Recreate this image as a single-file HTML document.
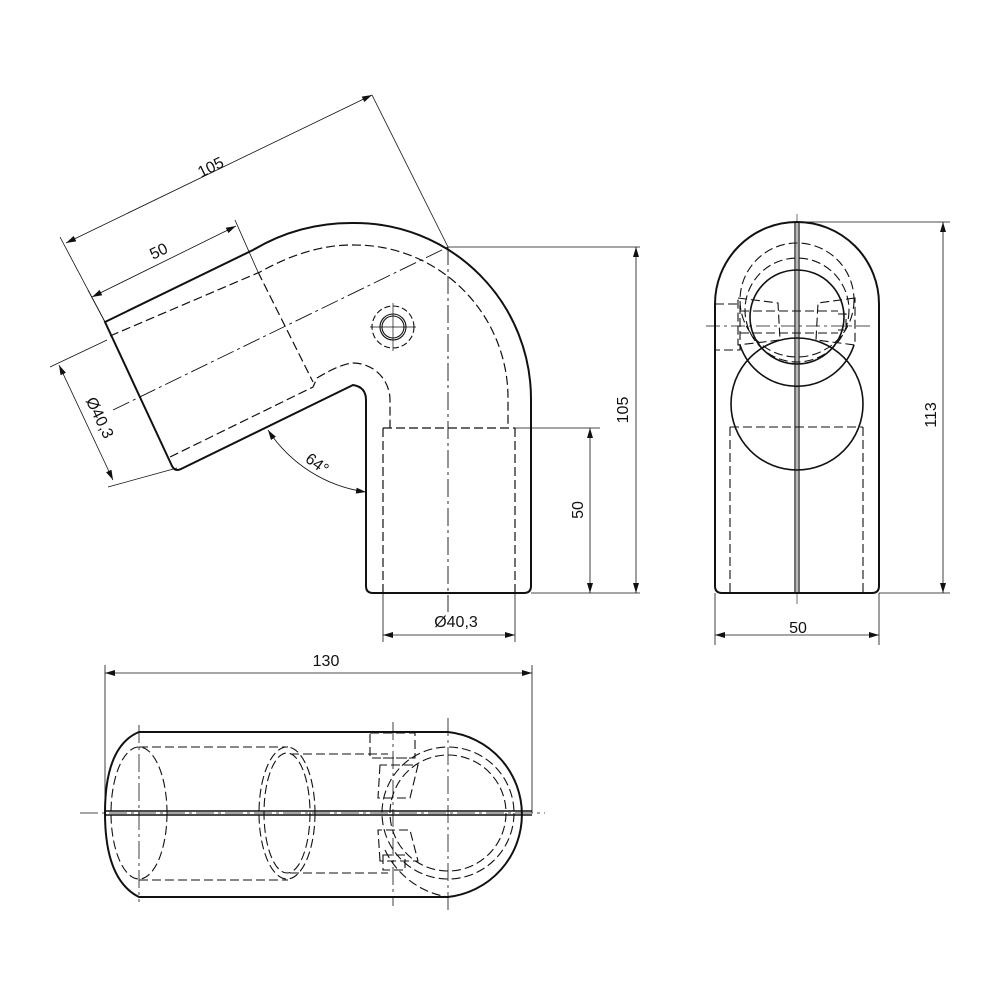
<!DOCTYPE html>
<html><head><meta charset="utf-8"><style>
html,body{margin:0;padding:0;background:#fff}
svg{display:block}
text{font-family:"Liberation Sans",sans-serif;font-size:16px;fill:#111}
</style></head><body>
<svg width="1000" height="1000" viewBox="0 0 1000 1000" xmlns="http://www.w3.org/2000/svg">
<defs>
<marker id="a" viewBox="0 0 10 6" refX="10" refY="3" markerWidth="10" markerHeight="6" orient="auto-start-reverse" markerUnits="userSpaceOnUse"><path d="M0,0L10,3L0,6z" fill="#111"/></marker>
</defs>
<g fill="none" stroke="#111">
<!-- FRONT VIEW -->
<g stroke-width="2">
<path d="M105,322 L253,250 Q300,222 355,223 A176,176 0 0 1 531,399 L531,586 Q531,593 524,593 L373,593 Q366,593 366,586 L366,400 Q366,387 353,385 L181,469 Q175,472 172,466 Z"/>
</g>
<g stroke-width="1.2" stroke-dasharray="9,4">
<path d="M110,336 L260,272 Q310,244 355,245 A153,153 0 0 1 508,398 L508,428"/>
<path d="M170,457 L313,387 L317,378 Q340,364 353,363 A37,37 0 0 1 390,400 L390,428"/>
<path d="M258,272 L313,382"/>
<path d="M383,428 L515,428"/>
<path d="M383,428 L383,593 M515,428 L515,593"/>
</g>
<g stroke-width="0.9" stroke-dasharray="18,4,3,4">
<path d="M113,410 L448,247"/>
<path d="M448,247 L448,612"/>
</g>
<g stroke-width="1.1">
<circle cx="393" cy="327" r="11"/>
<circle cx="393" cy="327" r="13"/>
<circle cx="393" cy="327" r="21" stroke-dasharray="6,3"/>
<path d="M370,327 H416 M393,303 V351" stroke-width="0.7"/>
</g>
<!-- front dims -->
<g stroke-width="0.8">
<path d="M448,247 L372,95 M105,322 L60,237"/>
<path d="M66,243 L372,95" marker-start="url(#a)" marker-end="url(#a)"/>
<path d="M258,272 L235,220 M105,322 L88,290"/>
<path d="M92,297 L236,226" marker-start="url(#a)" marker-end="url(#a)"/>
<path d="M107,340 L50,367 M177,468 L108,487"/>
<path d="M59,365 L113,480" marker-start="url(#a)" marker-end="url(#a)"/>
<path d="M268,430 A140,140 0 0 0 366,492" marker-start="url(#a)" marker-end="url(#a)"/>
<path d="M448,247 L640,247 M531,593 L640,593 M515,428 L600,428"/>
<path d="M636,247 L636,593" marker-start="url(#a)" marker-end="url(#a)"/>
<path d="M590,428 L590,593" marker-start="url(#a)" marker-end="url(#a)"/>
<path d="M383,593 L383,642 M515,593 L515,642"/>
<path d="M383,635 L515,635" marker-start="url(#a)" marker-end="url(#a)"/>
</g>
<!-- SIDE VIEW -->
<g stroke-width="2">
<path d="M715,304 A82,82 0 0 1 879,304 L879,586 Q879,593 872,593 L722,593 Q715,593 715,586 Z"/>
<path d="M795,222 V593 M799,222 V593" stroke-width="1.2"/>
<circle cx="797" cy="404" r="66" stroke-width="1.6"/>
<circle cx="797" cy="317" r="47" stroke-width="1.6"/>
<path d="M740,345 A60,60 0 0 0 854,345" stroke-width="1.6"/>
</g>
<g stroke-width="1.1" stroke-dasharray="9,4">
<circle cx="797" cy="300" r="57"/>
<circle cx="797" cy="310" r="52"/>
<path d="M730,427 V593 M863,427 V593 M730,427 H863"/>
<path d="M738,298 L778,303 L780,340 L738,345 Z M855,298 L818,303 L816,340 L855,345 Z"/>
<path d="M715,304 H740 V350 H715 M740,311 H838 M740,333 H838 M838,314 H846 V330 H838"/>
</g>
<path d="M706,326 H870" stroke-width="0.8" stroke-dasharray="14,4,3,4"/>
<path d="M797,214 V604" stroke-width="0.6"/>
<g stroke-width="0.8">
<path d="M797,222 L950,222 M879,593 L950,593"/>
<path d="M943,222 L943,593" marker-start="url(#a)" marker-end="url(#a)"/>
<path d="M715,593 L715,645 M879,593 L879,645"/>
<path d="M715,635 L879,635" marker-start="url(#a)" marker-end="url(#a)"/>
</g>
<!-- TOP VIEW -->
<g stroke-width="2">
<path d="M139,732 L448,732 A83,83 0 0 1 448,897 L139,897 Q105,880 105,813 Q105,746 139,732 Z"/>
<path d="M105,811 H532 M105,815 H532" stroke-width="1.4"/>
</g>
<g stroke-width="1.1" stroke-dasharray="9,4">
<ellipse cx="139" cy="813" rx="28" ry="66"/>
<ellipse cx="287" cy="813" rx="28" ry="66"/>
<ellipse cx="287" cy="813" rx="23" ry="60"/>
<path d="M139,747 H288 M139,880 H288 M290,754 H388 M290,873 H388"/>
<circle cx="448" cy="813" r="66"/>
<circle cx="448" cy="813" r="58"/>
<path d="M385,850 A84,84 0 0 0 448,897"/>
<path d="M370,733 H415 V758 H370 Z M383,758 H415 M380,765 L378,798 H410 L418,765 Z M380,861 L378,830 H410 L418,861 Z M383,855 H405 V870 H383 Z"/>
</g>
<g stroke-width="0.8" stroke-dasharray="18,4,3,4">
<path d="M80,813 H545 M139,725 V902 M448,718 V910 M393,722 V906"/>
</g>
<g stroke-width="0.8">
<path d="M105,665 L105,813 M532,665 L532,813"/>
<path d="M105,673 L532,673" marker-start="url(#a)" marker-end="url(#a)"/>
</g>
</g>
<!-- TEXT -->
<text transform="translate(213,172) rotate(-26)" text-anchor="middle">105</text>
<text transform="translate(161,256) rotate(-26)" text-anchor="middle">50</text>
<text transform="translate(95,420) rotate(64)" text-anchor="middle">Ø40,3</text>
<text transform="translate(314,468) rotate(36)" text-anchor="middle">64°</text>
<text transform="translate(628,410) rotate(-90)" text-anchor="middle">105</text>
<text transform="translate(583,510) rotate(-90)" text-anchor="middle">50</text>
<text x="456" y="627" text-anchor="middle">Ø40,3</text>
<text transform="translate(936,415) rotate(-90)" text-anchor="middle">113</text>
<text x="798" y="633" text-anchor="middle">50</text>
<text x="326" y="666" text-anchor="middle">130</text>
</svg>
</body></html>
